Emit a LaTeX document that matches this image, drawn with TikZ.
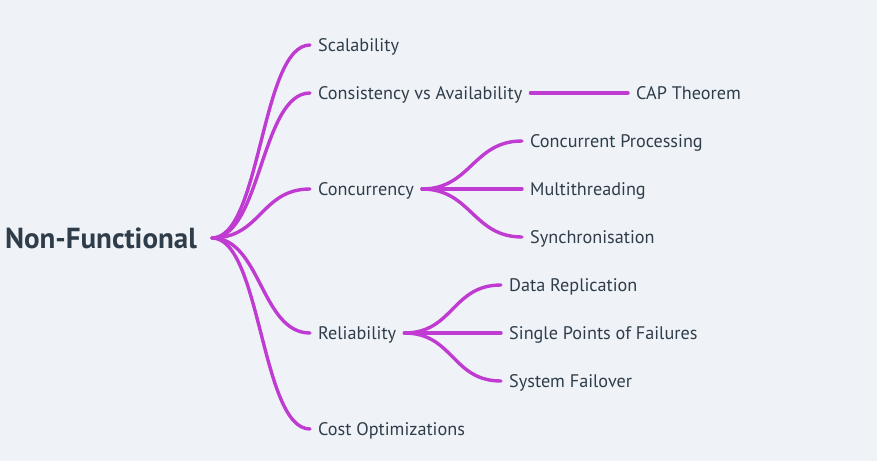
\documentclass[tikz,border=0pt]{standalone}
\usepackage{fontspec}
\setmainfont{PT Sans}
\usetikzlibrary{positioning}
\definecolor{bgG}{HTML}{EFF3F7}
\definecolor{linkM}{HTML}{C03BD1}
\definecolor{inkS}{HTML}{2F3D4A}

\begin{document}
\begin{tikzpicture}[
  x=1pt, y=-1pt,
  rootnode/.style={
    font=\fontsize{29}{32}\selectfont\bfseries,
    text=inkS, inner xsep=15pt, inner ysep=0pt,
    text height=20pt, text depth=0pt
  },
  leaf/.style={
    font=\fontsize{18.2}{21}\selectfont,
    text=inkS, inner xsep=8pt, inner ysep=0pt,
    text height=12.8pt, text depth=0pt
  },
  link/.style={draw=linkM, line width=3.4pt, line cap=round},
  branch/.style={
    link,
    to path={.. controls +(49,0) and +(-49,0) .. (\tikztotarget)}
  }
]
\fill[bgG] (0,0) rectangle (877,461);
\useasboundingbox (0,0) rectangle (877,461);

%% ═══ ROOT ═══
\node[rootnode, anchor=east] (root) at (212,238) {Non-Functional};

%% ═══ LEVEL 1 ═══
\node[leaf, anchor=west] (scal) at (310,45)  {Scalability};
\node[leaf, anchor=west] (cons) at (310,93)  {Consistency vs Availability};
\node[leaf, anchor=west] (conc) at (310,189) {Concurrency};
\node[leaf, anchor=west] (reli) at (310,333) {Reliability};
\node[leaf, anchor=west] (cost) at (310,429) {Cost Optimizations};

\draw[branch] (root.east) to (scal.west);
\draw[branch] (root.east) to (cons.west);
\draw[branch] (root.east) to (conc.west);
\draw[branch] (root.east) to (reli.west);
\draw[branch] (root.east) to (cost.west);

%% ═══ CONSISTENCY ═══
\node[leaf, anchor=west] (cap) at (628,93) {CAP Theorem};
\draw[link] (cons.east) -- (cap.west);

%% ═══ CONCURRENCY ═══
\node[leaf, anchor=west] (cproc) at (522,141) {Concurrent Processing};
\node[leaf, anchor=west] (mthr)  at (522,189) {Multithreading};
\node[leaf, anchor=west] (sync)  at (522,237) {Synchronisation};
\draw[branch] (conc.east) to (cproc.west);
\draw[branch] (conc.east) to (mthr.west);
\draw[branch] (conc.east) to (sync.west);

%% ═══ RELIABILITY ═══
\node[leaf, anchor=west] (drep) at (501,285) {Data Replication};
\node[leaf, anchor=west] (spof) at (501,333) {Single Points of Failures};
\node[leaf, anchor=west] (sfail) at (501,381) {System Failover};
\draw[branch] (reli.east) to (drep.west);
\draw[branch] (reli.east) to (spof.west);
\draw[branch] (reli.east) to (sfail.west);

\end{tikzpicture}
\end{document}
